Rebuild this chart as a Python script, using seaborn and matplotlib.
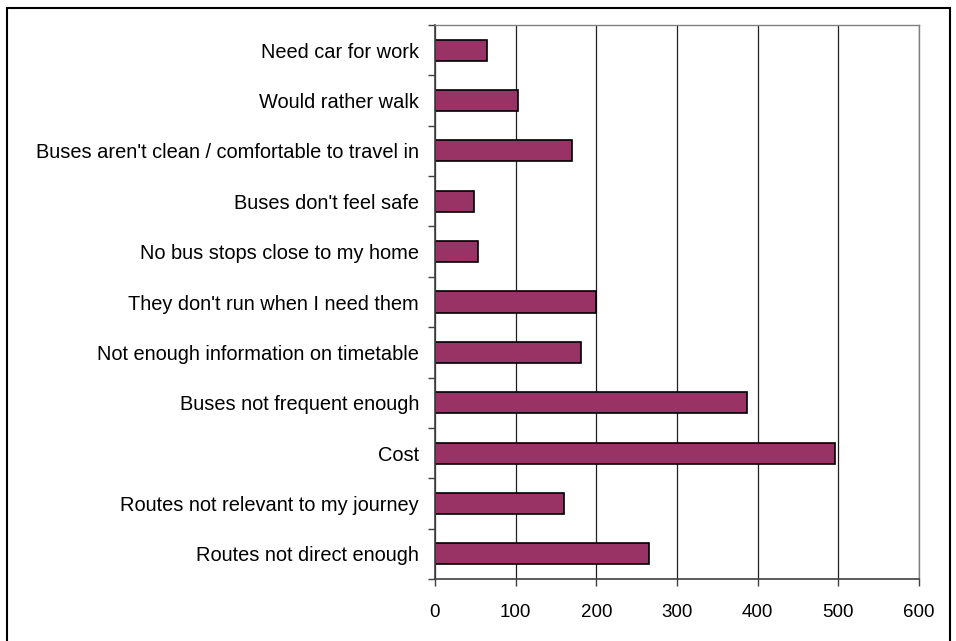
import matplotlib
matplotlib.use("Agg")
import matplotlib.pyplot as plt
import seaborn as sns
import numpy as np
import pandas as pd
from matplotlib.patches import Rectangle

categories = [
    "Need car for work",
    "Would rather walk",
    "Buses aren't clean / comfortable to travel in",
    "Buses don't feel safe",
    "No bus stops close to my home",
    "They don't run when I need them",
    "Not enough information on timetable",
    "Buses not frequent enough",
    "Cost",
    "Routes not relevant to my journey",
    "Routes not direct enough",
]
values = [65, 103, 170, 48, 53, 200, 181, 387, 496, 160, 265]
x_ticks = [0, 100, 200, 300, 400, 500, 600]

sns.set_theme(style="white")
plt.rcParams["font.family"] = ["Liberation Sans", "DejaVu Sans"]

fig = plt.figure(figsize=(9.56, 6.41), dpi=100)
ax = fig.add_axes([435/956, 1 - 579/641, (919-435)/956, (579-25)/641])

df = pd.DataFrame({"reason": categories, "count": values})
sns.barplot(data=df, x="count", y="reason", orient="h", color="#993366",
            edgecolor="black", linewidth=1.2, width=0.42, saturation=1, ax=ax)

n = len(categories)
ax.set_xlim(0, 600)
ax.set_ylim(n - 0.5, -0.5)
ax.set_xticks(x_ticks)
ax.set_xticklabels([str(t) for t in x_ticks], fontsize=13.5)
ax.set_yticks(range(n))
ax.set_yticklabels(categories, fontsize=14.4)
ax.set_yticks(np.arange(-0.5, n, 1.0), minor=True)
ax.tick_params(axis="y", which="major", length=0, pad=11.5, colors="black")
ax.tick_params(axis="y", which="minor", length=5, width=1, color="#404040", direction="out", left=True)
ax.tick_params(axis="x", which="major", length=5, width=1, color="#404040", direction="out", bottom=True, pad=13, labelcolor="black")
ax.set_xlabel("")
ax.set_ylabel("")

ax.xaxis.grid(True, color="#202020", linewidth=0.9)
ax.yaxis.grid(False)
ax.set_axisbelow(True)
for side in ["top", "right"]:
    ax.spines[side].set_color("#808080")
    ax.spines[side].set_linewidth(1)
for side in ["left", "bottom"]:
    ax.spines[side].set_color("#404040")
    ax.spines[side].set_linewidth(1.2)

fig.patches.append(Rectangle((7/956, -0.02), (950-7)/956, 1.02 - 8/641 + 0.0,
                             transform=fig.transFigure, fill=False,
                             edgecolor="black", linewidth=1.5, zorder=0))

fig.savefig("out.png", dpi=100)
